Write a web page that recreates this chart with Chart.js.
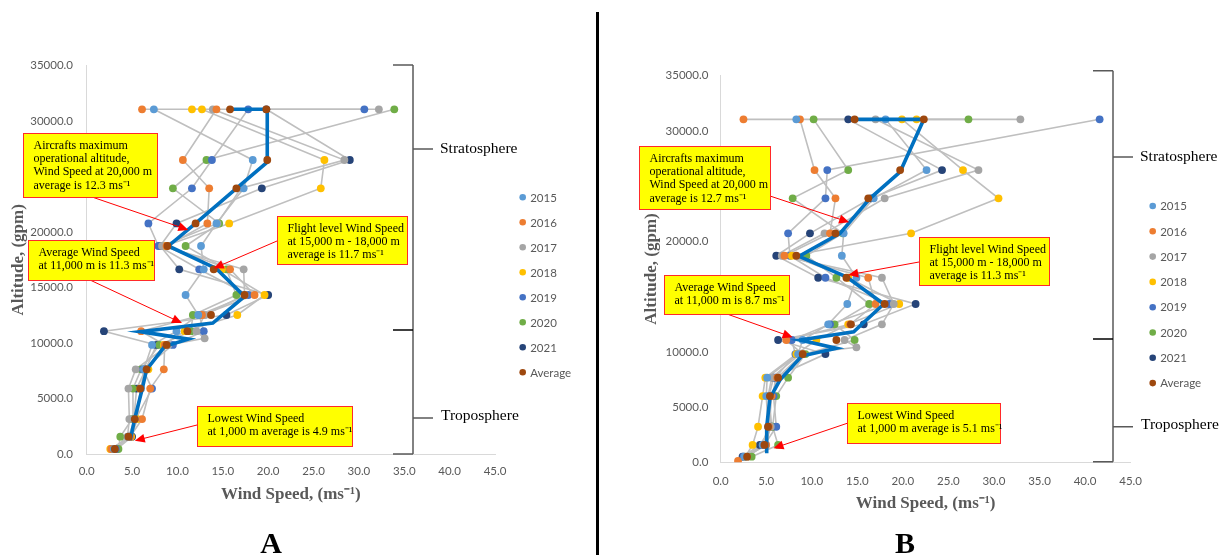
<!DOCTYPE html>
<html>
<head>
<meta charset="utf-8">
<script src="https://cdn.jsdelivr.net/npm/chart.js@4.4.1/dist/chart.umd.min.js"></script>
<style>
  body { margin: 0; background: #fff; width: 1221px; height: 555px; overflow: hidden; position: relative; }
  #wrapA { position: absolute; left: 0; top: 0; width: 600px; height: 555px; }
  #wrapB { position: absolute; left: 600px; top: 0; width: 621px; height: 555px; }
  #divider { position: absolute; left: 596px; top: 12px; width: 3px; height: 543px; background: #000; }
</style>
</head>
<body>
<div id="wrapA"><canvas id="chartA"></canvas></div>
<div id="wrapB"><canvas id="chartB"></canvas></div>
<div id="divider"></div>
<script>
// series names and colours (excel default palette)
var seriesNames = ['2015', '2016', '2017', '2018', '2019', '2020', '2021', 'Average'];
var seriesColors = ['#5B9BD5', '#ED7D31', '#A5A5A5', '#FFC000', '#4472C4', '#70AD47', '#264478', '#9E480E'];

// ---- panel A : altitude levels (gpm) and wind speed (ms-1) per year ----
var altA  = [450, 1560, 3150, 5900, 7630, 9830, 10430, 11070, 12530, 14330, 16650, 18750, 20780, 23950, 26500, 31070, 31070];
var a2015 = [3.0, 4.6, 5.3, 6.0, 6.3, 7.2, null, 9.9, 12.3, 10.9, 12.9, 12.6, 14.3, 17.3, 18.3, 7.4, null];
var a2016 = [2.7, 4.8, 6.1, 7.0, 8.5, 8.6, null, 6.0, 12.7, 18.5, 15.8, 8.8, 13.3, 13.5, 10.6, 14.3, 6.1];
var a2017 = [2.9, 4.5, 4.7, 4.6, 5.4, 9.0, 13.0, 12.1, 13.0, 17.4, 17.3, 8.3, 14.4, 17.0, 28.4, 13.9, 32.2];
var a2018 = [2.6, 4.9, 5.6, 5.9, 6.8, 8.5, null, 10.8, 16.6, 19.6, 14.9, 8.6, 15.7, 25.8, 26.2, 12.7, 11.6];
var a2019 = [3.2, 4.7, 5.4, 7.2, 6.2, 9.5, null, 12.9, 12.4, 17.8, 12.4, 7.9, 6.8, 11.6, 13.8, 17.8, 30.6];
var a2020 = [3.5, 3.7, 5.0, 5.1, 6.0, 8.0, null, 11.5, 11.7, 16.5, 15.4, 10.9, 14.6, 9.5, 13.2, 33.9, null];
var a2021 = [3.3, 5.0, 5.2, 5.5, 6.5, 7.7, null, 1.9, 15.4, 20.0, 10.2, 8.1, 9.9, 19.3, 29.0, 19.8, null];
var aAvg  = [3.1, 4.6, 5.3, 5.9, 6.6, 8.8, null, 11.1, 13.7, 17.4, 14.0, 8.9, 12.0, 16.5, 19.9, 19.8, 15.8];
// blue average profile line
var lineAltA  = [1260, 3200, 5800, 7600, 9700, 10350, 11030, 11800, 14200, 16700, 18750, 20780, 23950, 26300, 31070, 31070];
var lineWindA = [4.8, 5.3, 6.1, 6.6, 8.6, 11.2, 5.9, 13.9, 17.4, 14.3, 9.0, 12.0, 16.5, 19.9, 19.9, 15.8];

// ---- panel B ----
var altB  = [120, 510, 1570, 3220, 6000, 7660, 9800, 10410, 11070, 12490, 14330, 16710, 18700, 20730, 23900, 26460, 31050, 31050];
var b2015 = [null, 2.6, 4.6, 5.2, 5.0, 5.1, 8.5, null, 9.0, 11.8, 13.9, 14.9, 13.3, 13.5, 16.8, 22.6, 18.1, 8.3];
var b2016 = [1.9, null, 5.0, 5.3, 5.6, 6.2, 9.0, null, 7.2, 14.2, 17.0, 16.2, 7.0, 12.0, 12.6, 10.3, 8.7, 2.5];
var b2017 = [null, 2.9, 4.9, 5.5, 5.2, 5.6, 8.7, 14.9, 13.6, 17.7, 19.0, 17.7, 6.7, 11.4, 18.0, 28.3, 17.0, 32.9];
var b2018 = [null, 2.7, 3.5, 4.1, 4.6, 4.9, 8.3, null, 10.5, 14.0, 19.6, 14.0, 7.8, 20.9, 30.5, 26.6, 19.9, 21.5];
var b2019 = [null, 2.5, 4.8, 6.1, 5.8, 6.0, 8.2, null, 7.8, 12.0, 18.5, 11.5, 7.6, 7.4, 11.5, 11.7, 41.6, null];
var b2020 = [null, 3.4, 6.3, 5.7, 6.1, 7.4, 9.3, null, 14.7, 12.5, 16.3, 12.7, 9.4, 13.4, 7.9, 14.0, 10.2, 27.2];
var b2021 = [null, 2.4, 4.3, 5.6, 5.3, 5.8, 11.5, null, 6.3, 15.7, 21.4, 10.7, 6.1, 9.8, 16.5, 24.3, 14.0, null];
var bAvg  = [null, 2.9, 4.8, 5.2, 5.4, 6.3, 9.0, null, 12.7, 14.3, 18.0, 13.8, 8.3, 12.6, 16.2, 19.7, 22.3, 14.7];
var lineAltB  = [810, 3220, 5800, 7450, 9620, 10320, 11070, 11820, 14330, 16800, 18650, 20730, 23900, 26300, 31050, 31050];
var lineWindB = [5.05, 5.05, 5.4, 6.5, 8.9, 12.7, 8.7, 14.6, 17.9, 13.8, 8.6, 13.1, 16.4, 19.7, 22.3, 14.7];

// axis ticks
var yMax = 35000, yStep = 5000;
var xMax = 45, xStep = 5;

// annotation texts, arrow tips are in data units (wind, altitude)
var notesA = [
  { lines: ['Aircrafts maximum', 'operational altitude,', 'Wind Speed at 20,000 m', 'average is 12.3 ms\u207B\u00B9'], box: [23, 133, 134, 64], from: [92, 197], tip: [11.2, 20200] },
  { lines: ['Average Wind Speed', 'at 11,000 m is 11.3 ms\u207B\u00B9'], box: [28, 240, 126, 40], from: [90, 280], tip: [10.5, 11800] },
  { lines: ['Flight level Wind Speed', 'at 15,000 m - 18,000 m', 'average is 11.7 ms\u207B\u00B9'], box: [277, 216, 130, 48], from: [277, 241], tip: [14.0, 16740] },
  { lines: ['Lowest Wind Speed', 'at 1,000 m average is 4.9 ms\u207B\u00B9'], box: [197, 406, 155, 40], from: [197, 425], tip: [5.3, 1200] }
];
var notesB = [
  { lines: ['Aircrafts maximum', 'operational altitude,', 'Wind Speed at 20,000 m', 'average is 12.7 ms\u207B\u00B9'], box: [39, 146, 131, 63], from: [170, 196], tip: [14.1, 21730] },
  { lines: ['Average Wind Speed', 'at 11,000 m is 8.7 ms\u207B\u00B9'], box: [64, 275, 125, 39], from: [127, 314], tip: [7.9, 11320] },
  { lines: ['Flight level Wind Speed', 'at 15,000 m - 18,000 m', 'average is 11.3 ms\u207B\u00B9'], box: [319, 237, 130, 48], from: [319, 262], tip: [14.0, 16960] },
  { lines: ['Lowest Wind Speed', 'at 1,000 m average is 5.1 ms\u207B\u00B9'], box: [247, 403, 153, 40], from: [248, 423], tip: [5.8, 1270] }
];

function toPoints(xs, ys) {
  var out = [];
  for (var i = 0; i < xs.length; i++) {
    if (xs[i] !== null) out.push({ x: xs[i], y: ys[i] });
  }
  return out;
}

function buildDatasets(alt, series, lineWind, lineAlt) {
  var ds = [];
  // grey year profiles (no line for the average, it is the blue one)
  for (var i = 0; i < 7; i++) {
    ds.push({ label: seriesNames[i] + ' line', data: toPoints(series[i], alt), showLine: true,
      borderColor: '#BFBFBF', borderWidth: 1.6, pointRadius: 0, order: 3 });
  }
  ds.push({ label: 'Average line', data: toPoints(lineWind, lineAlt), showLine: true,
    borderColor: '#0070C0', borderWidth: 3.6, pointRadius: 0, order: 1 });
  for (var j = 0; j < series.length; j++) {
    ds.push({ label: seriesNames[j], inLegend: true, data: toPoints(series[j], alt), showLine: false,
      pointRadius: 3.9, pointBackgroundColor: seriesColors[j], backgroundColor: seriesColors[j],
      pointBorderWidth: 0, order: j === 7 ? 0 : 2 });
  }
  return ds;
}

function drawArrow(ctx, x1, y1, x2, y2) {
  var ang = Math.atan2(y2 - y1, x2 - x1);
  ctx.strokeStyle = '#FF0000';
  ctx.lineWidth = 1;
  ctx.beginPath();
  ctx.moveTo(x1, y1);
  ctx.lineTo(x2 - 8 * Math.cos(ang), y2 - 8 * Math.sin(ang));
  ctx.stroke();
  ctx.fillStyle = '#FF0000';
  ctx.beginPath();
  ctx.moveTo(x2, y2);
  ctx.lineTo(x2 - 10 * Math.cos(ang) + 4.5 * Math.sin(ang), y2 - 10 * Math.sin(ang) - 4.5 * Math.cos(ang));
  ctx.lineTo(x2 - 10 * Math.cos(ang) - 4.5 * Math.sin(ang), y2 - 10 * Math.sin(ang) + 4.5 * Math.cos(ang));
  ctx.closePath();
  ctx.fill();
}

// legend, bracket, notes and panel letter
function makeExtras(p) {
  return {
    id: 'extras' + p.letter,
    afterDraw: function (chart) {
      var ctx = chart.ctx;
      var xs = chart.scales.x, ys = chart.scales.y;
      ctx.save();

      // notes with arrows
      p.notes.forEach(function (n) {
        var b = n.box;
        drawArrow(ctx, n.from[0], n.from[1], xs.getPixelForValue(n.tip[0]), ys.getPixelForValue(n.tip[1]));
        ctx.fillStyle = '#FFFF00';
        ctx.fillRect(b[0], b[1], b[2], b[3]);
        ctx.strokeStyle = '#FF2A2A';
        ctx.lineWidth = 1;
        ctx.strokeRect(b[0] + 0.5, b[1] + 0.5, b[2], b[3]);
        ctx.fillStyle = '#000';
        ctx.font = '12px "Liberation Serif"';
        ctx.textAlign = 'left';
        ctx.textBaseline = 'middle';
        n.lines.forEach(function (t, k) {
          ctx.fillText(t, b[0] + 10.5, b[1] + 12.5 + k * 13.3);
        });
      });

      // atmosphere bracket
      var br = p.bracket;
      ctx.strokeStyle = '#595959';
      ctx.lineWidth = 1.5;
      ctx.beginPath();
      ctx.moveTo(br.x, br.top); ctx.lineTo(br.x, br.bottom);
      ctx.moveTo(br.x - 20, br.top); ctx.lineTo(br.x, br.top);
      ctx.moveTo(br.x - 20, br.bottom); ctx.lineTo(br.x, br.bottom);
      ctx.moveTo(br.x, br.strat); ctx.lineTo(br.x + 20, br.strat);
      ctx.moveTo(br.x, br.trop); ctx.lineTo(br.x + 20, br.trop);
      ctx.stroke();
      ctx.strokeStyle = '#000';
      ctx.beginPath();
      ctx.moveTo(br.x - 20, br.mid); ctx.lineTo(br.x, br.mid);
      ctx.stroke();
      ctx.fillStyle = '#000';
      ctx.font = '15.5px "Liberation Serif"';
      ctx.textAlign = 'left';
      ctx.textBaseline = 'middle';
      ctx.fillText('Stratosphere', br.x + 27, br.strat);
      ctx.fillText('Troposphere', br.x + 28, br.trop - 2);

      // legend
      var lg = p.legend, row = 0;
      ctx.font = '11.5px Lato';
      chart.data.datasets.forEach(function (d) {
        if (!d.inLegend) return;
        var y = lg.y + row * lg.step;
        ctx.fillStyle = d.backgroundColor;
        ctx.beginPath();
        ctx.arc(lg.x, y, 3.3, 0, Math.PI * 2);
        ctx.fill();
        ctx.fillStyle = '#595959';
        ctx.fillText(d.label, lg.x + 7.5, y + 0.5);
        row++;
      });

      // panel letter
      ctx.fillStyle = '#000';
      ctx.font = 'bold 30px "Liberation Serif"';
      ctx.textAlign = 'center';
      ctx.textBaseline = 'alphabetic';
      ctx.fillText(p.letter, p.letterX, 553);
      ctx.restore();
    }
  };
}

function makeChart(id, p) {
  var tickFont = { family: 'Lato', size: 11.5 };
  var titleFont = { family: 'Liberation Serif', size: 17, weight: 'bold' };
  return new Chart(document.getElementById(id), {
    type: 'scatter',
    data: { datasets: buildDatasets(p.alt, p.series, p.lineWind, p.lineAlt) },
    options: {
      responsive: true,
      maintainAspectRatio: false,
      animation: false,
      layout: { padding: { left: 0, top: p.top, right: p.right, bottom: 0 } },
      plugins: { legend: { display: false }, tooltip: { enabled: false } },
      scales: {
        x: {
          type: 'linear', min: 0, max: xMax,
          afterFit: function (s) { s.height = p.xH; },
          grid: { display: false, drawTicks: false },
          border: { display: true, color: '#D9D9D9', width: 1 },
          ticks: { stepSize: xStep, autoSkip: false, maxRotation: 0, padding: p.xTickPad, color: '#595959', font: tickFont,
            callback: function (v) { return v.toFixed(1); } },
          title: { display: true, text: 'Wind Speed, (ms\u207B\u00B9)', color: '#595959', font: titleFont,
            padding: { top: 0, bottom: p.xTitlePad } }
        },
        y: {
          type: 'linear', min: 0, max: yMax,
          afterFit: function (s) { s.width = p.yW; },
          grid: { display: false, drawTicks: false },
          border: { display: true, color: '#D9D9D9', width: 1 },
          ticks: { stepSize: yStep, padding: p.yTickPad, color: '#595959', font: tickFont,
            callback: function (v) { return v.toFixed(1); } },
          title: { display: true, text: 'Altitude, (gpm)', color: '#595959', font: titleFont,
            padding: { top: p.yTitlePad, bottom: 0 } }
        }
      }
    },
    plugins: [makeExtras(p)]
  });
}

makeChart('chartA', {
  letter: 'A', letterX: 271,
  alt: altA, series: [a2015, a2016, a2017, a2018, a2019, a2020, a2021, aAvg],
  lineWind: lineWindA, lineAlt: lineAltA,
  yW: 86.7, xH: 101, top: 65.7, right: 105,
  yTickPad: 13.7, yTitlePad: 8, xTitlePad: 50, xTickPad: 10.5,
  notes: notesA,
  bracket: { x: 413, top: 65, bottom: 454, mid: 330, strat: 149, trop: 418 },
  legend: { x: 522.7, y: 197.3, step: 25 }
});

makeChart('chartB', {
  letter: 'B', letterX: 305,
  alt: altB, series: [b2015, b2016, b2017, b2018, b2019, b2020, b2021, bAvg],
  lineWind: lineWindB, lineAlt: lineAltB,
  yW: 120.7, xH: 92.7, top: 75.7, right: 90.4,
  yTickPad: 12.4, yTitlePad: 41.5, xTitlePad: 41, xTickPad: 12,
  notes: notesB,
  bracket: { x: 513, top: 70.7, bottom: 461.7, mid: 339, strat: 157, trop: 426.7 },
  legend: { x: 552.7, y: 206, step: 25.3 }
});
</script>
</body>
</html>
